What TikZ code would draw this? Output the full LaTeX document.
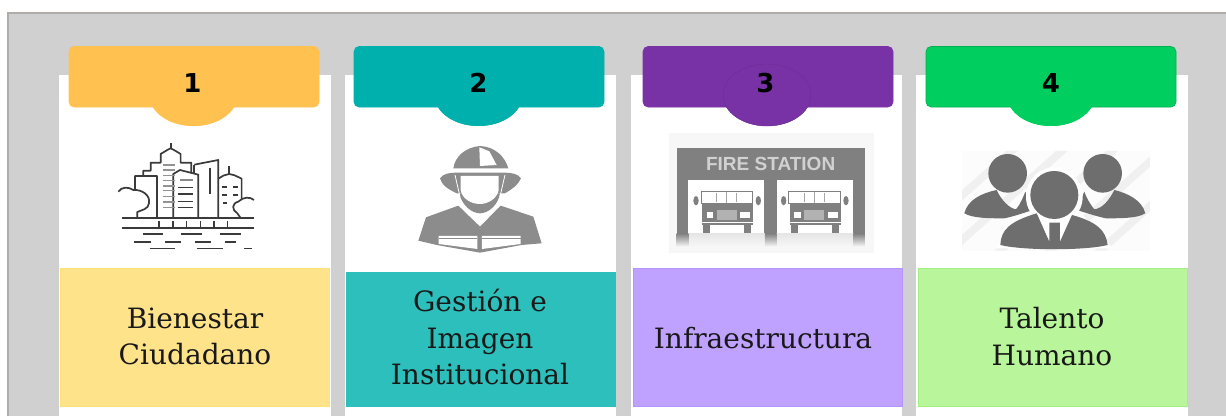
\documentclass[tikz,border=0pt]{standalone}
\usepackage{fontspec}
\setmainfont{DejaVu Serif}
\newfontfamily\numfont{DejaVu Sans}
\newfontfamily\signfont{Liberation Sans}
\definecolor{panelgray}{HTML}{D0D0D0}
\definecolor{panelline}{HTML}{AFACAA}
\definecolor{hA}{HTML}{FFC250}
\definecolor{hB}{HTML}{00B0AC}
\definecolor{hC}{HTML}{7832A6}
\definecolor{hD}{HTML}{00CE5E}
\definecolor{lA}{HTML}{FFE38B}
\definecolor{lB}{HTML}{2DBFBB}
\definecolor{lC}{HTML}{BFA2FF}
\definecolor{lD}{HTML}{B8F59B}
\definecolor{eA}{HTML}{FFE07A}
\definecolor{eC}{HTML}{B494FF}
\definecolor{eD}{HTML}{A4EF82}
\definecolor{icoA}{HTML}{3A3A3A}
\definecolor{icoB}{HTML}{8C8C8C}
\definecolor{icoC}{HTML}{808080}
\definecolor{icoD}{HTML}{6E6E6E}
\tikzset{
 x=1pt,y=-1pt,
 column/.style={fill=white,draw=none},
 panelbox/.style={inner sep=0pt,line width=.8pt,minimum width=269,anchor=north west},
 lab/.style={draw=none,inner sep=0pt,align=center,font=\fontsize{28}{36.6}\selectfont,text=black!90},
 numlab/.style={font=\numfont\bfseries\fontsize{26}{28}\selectfont,text=black},
 zoomed/.style={x=.3333pt,y=-.3333pt},
 city/.style={draw=icoA,line width=1.7pt,line join=round},
}
\newcommand{\header}[4]{% x-left, centre x, fill, edge
 \fill[#3] (#2,95) ellipse[x radius=44,y radius=31];
 \draw[#4,fill=#3,line width=.6pt,rounded corners=5pt] (#1,46.5) rectangle ++(250,60.5);
 \fill[#3] (#2,95) ellipse[x radius=44,y radius=31];
}
\begin{document}
\begin{tikzpicture}
\useasboundingbox (0,0) rectangle (1226,416);
\fill[white] (0,0) rectangle (1226,416);
\fill[panelgray] (8,13) rectangle (1226,416);
\draw[panelline,line width=2.4pt] (8,416) -- (8,13) -- (1226,13);
% columns
\fill[column] (59,75) rectangle (331,416);
\fill[column] (345,75) rectangle (616,416);
\fill[column] (631,75) rectangle (902,416);
\fill[column] (916,75) rectangle (1188,416);
% label panels
\node[panelbox,fill=lA,draw=eA,minimum height=138] (labelA) at (60,267.5) {};
\node[panelbox,fill=lB,draw=lB,minimum height=134] (labelB) at (345.5,271.5) {};
\node[panelbox,fill=lC,draw=eC,minimum height=138] (labelC) at (632.5,267.5) {};
\node[panelbox,fill=lD,draw=eD,minimum height=138] (labelD) at (917.5,267.5) {};
\node[lab] (textA) at (195,336.5) {Bienestar\\Ciudadano};
\node[lab] (textB) at (480,337) {Gestión e\\Imagen\\Institucional};
\node[lab] (textC) at (763,338) {Infraestructura};
\node[lab] (textD) at (1052,336.5) {Talento\\Humano};
% headers
\header{69}{193.5}{hA}{hA}
\header{354}{478.5}{hB}{hB}
\header{643}{767}{hC}{hC}
\draw[hC!88!black,line width=.35pt] (767,95) ellipse[x radius=44,y radius=31];
\header{926}{1051}{hD}{hD!85!black}
\node[numlab] (numA) at (192.5,83) {1};
\node[numlab] (numB) at (478.5,83) {2};
\node[numlab] (numC) at (765.5,83) {3};
\node[numlab] (numD) at (1051,83) {4};
% ---------- city icon
\begin{scope}[zoomed]
\draw[city] (366,654) -- (762,654);
\draw[city] (366,685) -- (762,685);
\foreach \tx in {478,519,560,602,643,683} \draw[city] (\tx,664) -- (\tx,685);
\foreach \ax/\bx/\yy in {428/490/703,542/606/703,660/722/703,403/452/726,495/542/726,585/633/726,675/707/726,450/525/746,592/668/746,732/755/746}
  \draw[city] (\ax,\yy) -- (\bx,\yy);
\draw[city] (405,570) -- (405,528) -- (430,528) -- (430,512) -- (452,512) -- (452,488) -- (482,488) -- (482,462) -- (502,450) -- (512,445) -- (522,450) -- (542,462) -- (542,488) -- (574,488) -- (574,520);
\draw[city] (512,445) -- (512,428);
\draw[city] (430,528) -- (472,528) -- (472,654);
\draw[city] (520,654) -- (520,522) -- (540,510) -- (595,524) -- (595,654);
\draw[city] (583,494) -- (655,480) -- (655,654);
\draw[city] (583,494) -- (583,518);
\draw[icoA,line width=2pt] (629,503) -- (629,582);
\draw[city] (655,536) -- (672,526) -- (688,522) -- (704,526) -- (725,536) -- (725,598);
\draw[city] (688,522) -- (688,498);
\draw[city] (355,575) .. controls (365,560) and (385,560) .. (400,570) .. controls (425,568) and (452,585) .. (447,610) .. controls (445,628) and (425,630) .. (412,636) -- (412,654);
\draw[city] (722,654) -- (712,640) .. controls (695,630) and (695,610) .. (715,605) .. controls (730,590) and (750,590) .. (762,600);
\foreach \yy in {495,510,526,542,558,572,590,606,622}
  \draw[icoA!55,line width=1.5pt] (490,\yy) -- (526,\yy);
\foreach \yy in {562,582,605,622}
  \draw[icoA,line width=1.6pt] (533,\yy) -- ++(47,0);
\draw[icoA!60,line width=1.6pt] (540,540) -- ++(40,0);
\foreach \yy in {562,585} {\draw[city] (667,\yy) -- (680,\yy); \draw[city] (700,\yy) -- (715,\yy);}
\draw[city] (670,610) -- (680,610);
\end{scope}
% ---------- firefighter icon
\begin{scope}[shift={(340,30)},zoomed]
\fill[icoB] (340,415) .. controls (345,380) and (375,352) .. (420,348) .. controls (465,350) and (495,380) .. (505,415) -- cycle;
\fill[white] (418,352) -- (448,364) -- (470,405) -- (420,408) -- cycle;
\fill[icoB] (300,445) .. controls (310,430) and (330,428) .. (350,428) -- (495,428) .. controls (515,428) and (535,432) .. (543,445) .. controls (535,465) and (515,478) .. (495,490) -- (350,490) .. controls (325,478) and (305,465) .. (300,445) -- cycle;
\fill[icoB] (358,490) .. controls (365,525) and (395,550) .. (420,550) .. controls (445,550) and (475,525) .. (480,490) -- cycle;
\fill[white] (362,438) -- (476,438) -- (476,480) .. controls (472,505) and (445,522) .. (420,522) .. controls (392,522) and (366,505) .. (362,480) -- cycle;
\draw[white,line width=.8pt] (345,435) -- (360,500);
\draw[white,line width=.8pt] (495,435) -- (480,500);
\fill[icoB] (235,632) -- (258,562) -- (355,527) -- (420,590) -- (482,527) -- (580,560) -- (605,640) -- (545,645) -- (420,668) -- (290,645) -- cycle;
\fill[white] (296,618) -- (412,618) -- (412,657) -- (296,642) -- cycle;
\fill[white] (426,618) -- (542,618) -- (542,642) -- (426,657) -- cycle;
\draw[icoB,line width=.8pt] (296,626) -- (412,626) (426,626) -- (542,626);
\end{scope}
% ---------- fire station icon
\begin{scope}[shift={(625,30)},zoomed]
\fill[black!3] (133,308) rectangle (748,668);
\fill[icoC] (155,355) rectangle (720,610);
\fill[white] (190,450) rectangle (418,610);
\fill[white] (455,450) rectangle (685,610);
\shade[top color=black!10,bottom color=black!3] (190,610) rectangle (685,650);
\shade[top color=icoC,bottom color=black!3] (155,610) rectangle (190,650);
\shade[top color=icoC,bottom color=black!3] (420,610) rectangle (455,650);
\shade[top color=icoC,bottom color=black!3] (685,610) rectangle (720,650);
\node[font=\signfont\bfseries\fontsize{19}{21}\selectfont,text=black!18,inner sep=0pt] (sign) at (437,402) {FIRE STATION};
\foreach \dx in {0,263} {
\begin{scope}[xshift=\dx*.3333pt]
\draw[icoC,line width=.8pt] (228,485) rectangle (382,520);
\draw[icoC!70,line width=.4pt] (305,485) -- (305,520) (275,490) -- (275,515) (335,490) -- (335,515);
\fill[icoC] (232,520) rectangle (385,585);
\fill[white] (245,545) rectangle (265,565);
\fill[white] (345,545) rectangle (375,565);
\fill[black!30] (275,540) rectangle (335,570);
\fill[white] (232,575) rectangle (385,579);
\fill[icoC] (213,512) ellipse[x radius=8,y radius=14];
\fill[icoC] (400,512) ellipse[x radius=8,y radius=14];
\fill[icoC] (234,585) rectangle (256,610);
\fill[icoC] (357,585) rectangle (379,610);
\end{scope}}
\end{scope}
% ---------- people icon
\begin{scope}[shift={(906,0)},zoomed]
\begin{scope}
\clip (168,453) rectangle (732,752);
\fill[black!1] (168,453) rectangle (732,752);
\foreach \sx in {300,450,600,750,900}
  \fill[black!6] (\sx,453) -- (\sx+35,453) -- (\sx-300,752) -- (\sx-335,752) -- cycle;
\end{scope}
\fill[icoD] (175,640) .. controls (185,600) and (225,580) .. (272,570) .. controls (285,600) and (310,625) .. (330,628) .. controls (345,610) and (352,590) .. (358,575) -- (380,630) .. controls (350,640) and (320,650) .. (295,655) .. controls (250,655) and (200,655) .. (175,640) -- cycle;
\fill[icoD] (718,640) .. controls (708,600) and (665,580) .. (625,570) .. controls (610,600) and (590,625) .. (565,628) .. controls (550,610) and (540,590) .. (535,575) -- (512,630) .. controls (545,640) and (575,650) .. (600,655) .. controls (645,655) and (695,655) .. (718,640) -- cycle;
\fill[icoD] (305,520) ellipse[x radius=58,y radius=58];
\fill[icoD] (590,520) ellipse[x radius=58,y radius=58];
\fill[white] (445,590) ellipse[x radius=85,y radius=88];
\fill[white] (370,640) -- (525,640) -- (620,745) -- (270,745) -- cycle;
\fill[icoD] (445,585) ellipse[x radius=72,y radius=72];
\fill[icoD] (283,735) .. controls (285,690) and (310,665) .. (392,640) -- (430,725) -- (430,668) -- (462,668) -- (462,725) -- (498,645) .. controls (570,665) and (600,690) .. (605,735) .. controls (540,752) and (350,752) .. (283,735) -- cycle;
\end{scope}
\end{tikzpicture}
\end{document}
